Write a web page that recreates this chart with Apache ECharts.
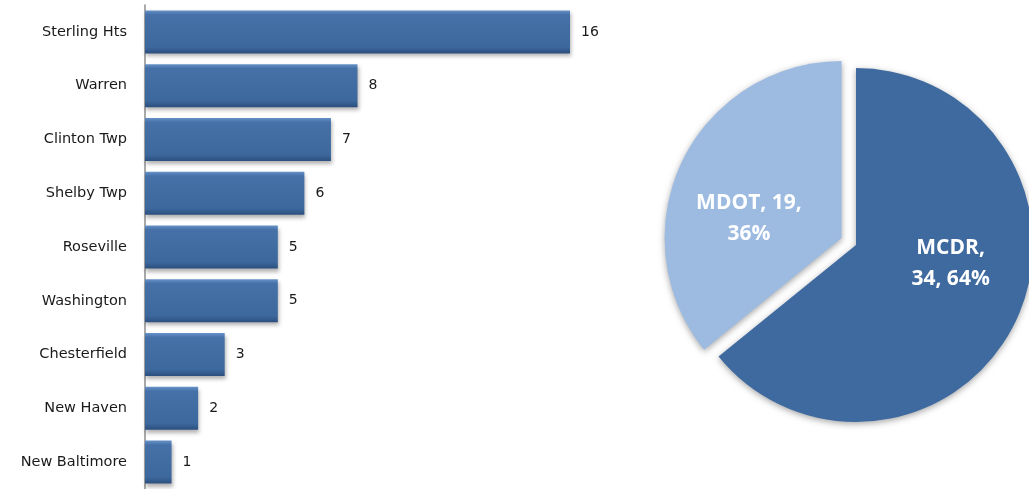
<!DOCTYPE html>
<html>
<head>
<meta charset="utf-8">
<script src="https://cdn.jsdelivr.net/npm/echarts@6/dist/echarts.min.js"></script>
<style>
  html, body { margin: 0; padding: 0; background: #fff; }
  #chart { width: 1029px; height: 489px; }
</style>
</head>
<body>
<div id="chart"></div>
<script>
// bar data (top to bottom)
let city_names = ['Sterling Hts', 'Warren', 'Clinton Twp', 'Shelby Twp', 'Roseville', 'Washington', 'Chesterfield', 'New Haven', 'New Baltimore']
let city_counts = [16, 8, 7, 6, 5, 5, 3, 2, 1]

// pie data
let agency_names = ['MCDR', 'MDOT']
let agency_counts = [34, 19]
let agency_colors = ['#3e6a9f', '#9dbbe1']

let font = '"DejaVu Sans", "Open Sans", sans-serif'
let pie_font = '"Open Sans", "DejaVu Sans", sans-serif'

function bar_color() {
  // fake the bevel look
  return new echarts.graphic.LinearGradient(0, 0, 0, 1, [
    { offset: 0, color: '#6792c8' },
    { offset: 0.1, color: '#4671a8' },
    { offset: 0.85, color: '#3d689d' },
    { offset: 1, color: '#2b4f7e' }
  ])
}

function build_option() {
  let pie_data = agency_names.map((name, index) => {
    return {
      value: agency_counts[index],
      name: name,
      selected: name === 'MDOT',
      itemStyle: { color: agency_colors[index] }
    }
  })
  return {
    animation: false,
    grid: {
      left: 145,
      top: 5,
      width: 425,
      height: 487
    },
    xAxis: {
      type: 'value',
      min: 0,
      max: 16,
      show: false
    },
    yAxis: {
      type: 'category',
      data: city_names,
      inverse: true,
      axisLine: { lineStyle: { color: '#8c8c8c', width: 1.5 } },
      axisTick: { show: false },
      axisLabel: {
        margin: 18,
        color: '#1a1a1a',
        fontFamily: font,
        fontSize: 14.5
      }
    },
    series: [
      {
        type: 'bar',
        data: city_counts,
        barWidth: 43,
        itemStyle: {
          color: bar_color(),
          shadowColor: 'rgba(0,0,0,0.3)',
          shadowBlur: 4,
          shadowOffsetX: 1,
          shadowOffsetY: 3
        },
        label: {
          show: true,
          position: 'right',
          distance: 11,
          color: '#1a1a1a',
          fontFamily: font,
          fontSize: 14
        }
      },
      {
        type: 'pie',
        center: [856, 245],
        radius: 177,
        startAngle: 90,
        clockwise: true,
        selectedMode: 'single',
        selectedOffset: 16,
        data: pie_data,
        itemStyle: {
          borderWidth: 0,
          shadowColor: 'rgba(0,0,0,0.35)',
          shadowBlur: 6,
          shadowOffsetY: 2
        },
        label: {
          show: true,
          position: 'inside',
          color: '#fff',
          fontFamily: pie_font,
          fontWeight: 'bold',
          fontSize: 21,
          lineHeight: 31,
          formatter: function(p) {
            if (p.name === 'MDOT') return p.name + ', ' + p.value + ',\n' + Math.round(p.percent) + '%'
            return p.name + ',\n' + p.value + ', ' + Math.round(p.percent) + '%'
          }
        },
        labelLine: { show: false },
        labelLayout: function(params) {
          // nudge labels to where the original sits
          if (params.dataIndex === 1) return { dx: -10, dy: 20 }
          return { dx: 12, dy: -21 }
        }
      }
    ]
  }
}

var myChart = echarts.init(document.querySelector('#chart'))
myChart.setOption(build_option())
window.addEventListener('resize', function() {
  myChart.resize()
})
</script>
</body>
</html>
